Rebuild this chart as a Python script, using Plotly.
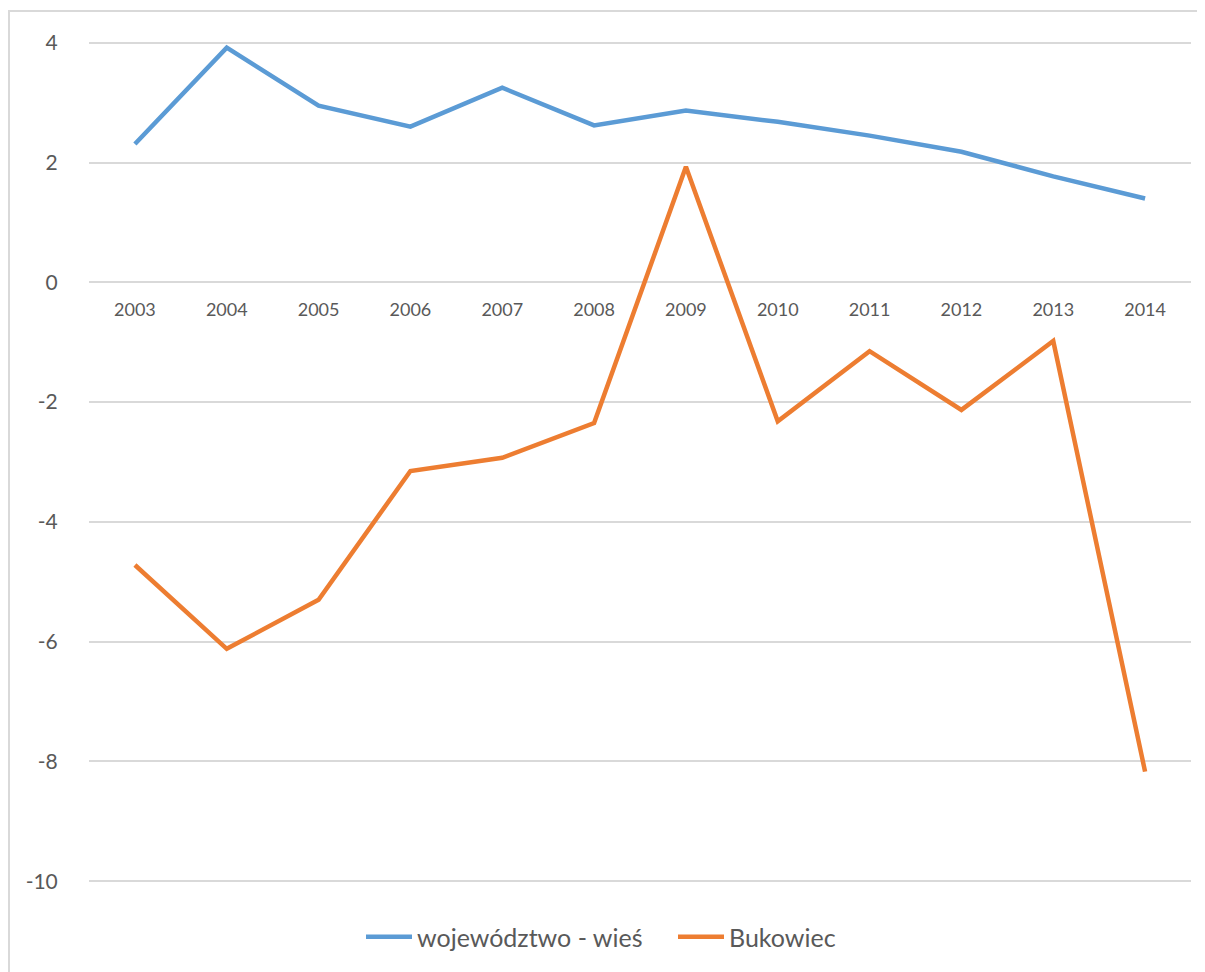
import plotly.graph_objects as go

years = ["2003", "2004", "2005", "2006", "2007", "2008", "2009", "2010", "2011", "2012", "2013", "2014"]
wojewodztwo_wies = [2.31, 3.92, 2.95, 2.60, 3.25, 2.62, 2.87, 2.68, 2.45, 2.18, 1.77, 1.40]
bukowiec = [-4.72, -6.12, -5.30, -3.15, -2.93, -2.35, 1.93, -2.32, -1.15, -2.13, -0.98, -8.17]
y_ticks = [4, 2, 0, -2, -4, -6, -8, -10]
y_tick_labels = ["4", "2", "0", "-2", "-4", "-6", "-8", "-10"]

BLUE = "#5B9BD5"
ORANGE = "#ED7D31"
GRID = "#D9D9D9"
TXT = "#595959"
FONT = "Lato"

fig = go.Figure()
fig.add_trace(go.Scatter(x=years, y=wojewodztwo_wies, mode="lines", name="województwo - wieś",
                         line=dict(color=BLUE, width=4.5)))
fig.add_trace(go.Scatter(x=years, y=bukowiec, mode="lines", name="Bukowiec",
                         line=dict(color=ORANGE, width=4.5)))

# page body adds an 8px offset; compensate so the screenshot lines up
OFF = 8
H, W = 972, 1205
T, B, L, R = 41 - OFF, 89 + OFF, 89 - OFF, 14 + OFF
ph = H - T - B
pw = W - L - R
zero_pos = (0 - (-10)) / 14.0

def px_x(x):
    return (x - OFF - L) / pw

def px_y(y):
    return (H - B - (y - OFF)) / ph

fig.update_layout(
    width=W, height=H,
    margin=dict(l=L, r=R, t=T, b=B, pad=0),
    paper_bgcolor="white", plot_bgcolor="white",
    font=dict(family=FONT, color=TXT),
    showlegend=True,
    legend=dict(orientation="h", x=px_x(673), xanchor="center",
                y=px_y(937), yanchor="middle",
                font=dict(size=25, color=TXT, family=FONT),
                itemwidth=46, entrywidth=251, entrywidthmode="pixels",
                tracegroupgap=0, bgcolor="rgba(0,0,0,0)"),
    xaxis=dict(type="category", range=[-0.5, 11.5], showgrid=False, zeroline=False,
               showline=False, anchor="free", position=zero_pos,
               tickfont=dict(size=18, color=TXT, family=FONT),
               ticks="outside", ticklen=12, tickcolor="rgba(0,0,0,0)"),
    yaxis=dict(range=[-10.03, 4.03], tickvals=y_ticks, ticktext=y_tick_labels,
               showgrid=True, gridcolor=GRID,
               gridwidth=1.5, zeroline=False, showline=False,
               tickfont=dict(size=21, color=TXT, family=FONT),
               ticks="outside", ticklen=26, tickcolor="rgba(0,0,0,0)"),
    shapes=[dict(type="rect", xref="paper", yref="paper",
                 x0=px_x(9), x1=px_x(W + 20),
                 y0=px_y(H + 20), y1=px_y(11),
                 line=dict(color=GRID, width=2), fillcolor="rgba(0,0,0,0)", layer="below")],
)

fig.write_html("out.html")
